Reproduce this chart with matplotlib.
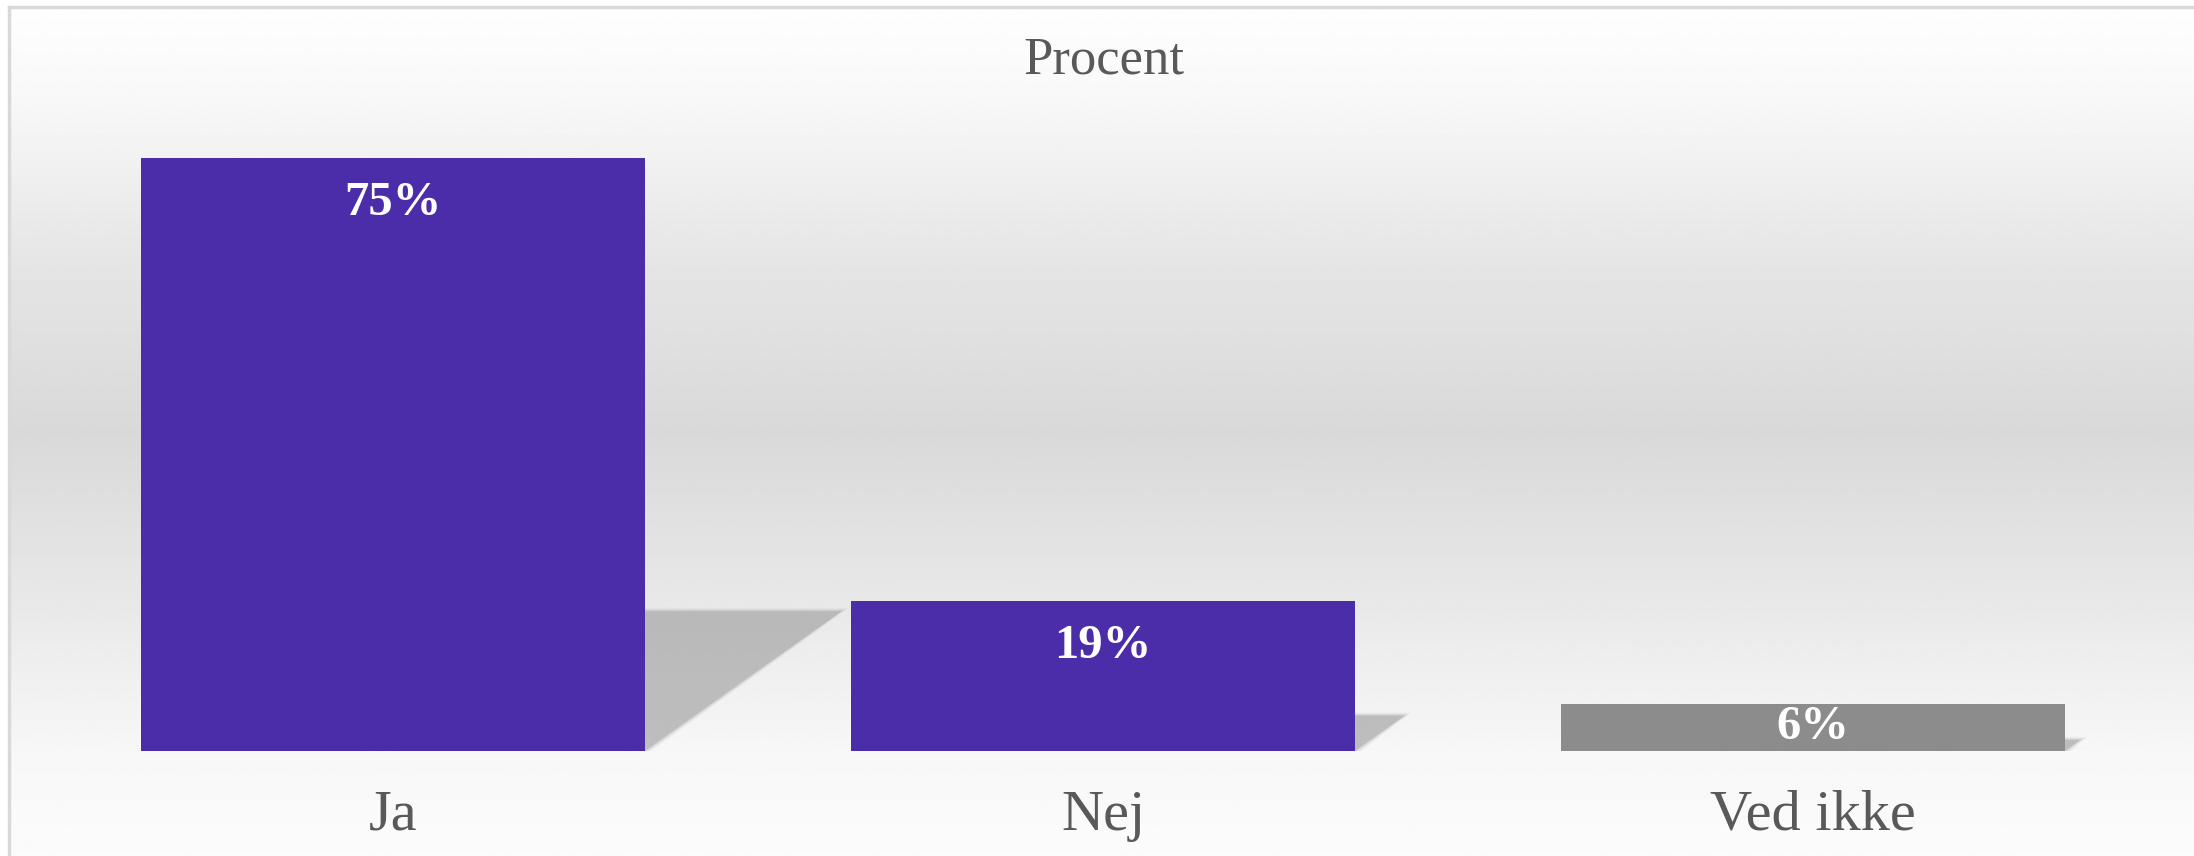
import numpy as np
import matplotlib
matplotlib.use("Agg")
import matplotlib.pyplot as plt
from matplotlib.patches import Polygon

categories = ["Ja", "Nej", "Ved ikke"]
values = [75, 19, 6]
labels = ["75%", "19%", "6%"]
bar_colors = ["#4b2daa", "#4b2daa", "#8c8c8c"]

W, H, DPI = 2194, 856, 100
fig = plt.figure(figsize=(W / DPI, H / DPI), dpi=DPI)
fig.patch.set_facecolor("white")

# background gradient (white -> light grey -> white), inside a thin frame
bg = fig.add_axes([9 / W, 0, 1 - 9 / W, 1 - 7 / H], zorder=0)
stops_pos = [0.0, 0.1, 0.3, 0.5, 0.7, 0.88, 1.0]
stops_val = [0.995, 0.975, 0.9, 0.85, 0.91, 0.97, 0.985]
yy = np.linspace(0, 1, 400)
grad = np.interp(yy, stops_pos, stops_val)
bg.imshow(np.repeat(grad[:, None], 2, axis=1), cmap="gray", vmin=0, vmax=1,
          aspect="auto", extent=[0, 1, 0, 1], origin="upper", interpolation="bilinear")
bg.set_xlim(0, 1)
bg.set_ylim(0, 1)
bg.axis("off")
fig.add_artist(plt.Line2D([9 / W, 9 / W], [0, 1 - 7 / H], transform=fig.transFigure,
                          color="#d9d9d9", lw=2.5))
fig.add_artist(plt.Line2D([9 / W, 1], [1 - 7 / H, 1 - 7 / H], transform=fig.transFigure,
                          color="#d9d9d9", lw=2.5))

ax = fig.add_axes([38 / W, 1 - 751 / H, 2130 / W, (751 - 158) / H], zorder=1)
ax.patch.set_alpha(0)
x = np.arange(len(categories))
width = 0.709
ax.set_xlim(-0.5, len(categories) - 0.5)
ax.set_ylim(0, 75)

# soft shadows cast behind bars
for xi, v in zip(x, values):
    dx = 0.0037 * v
    dy = 0.236 * v
    right = xi + width / 2
    left = xi - width / 2
    for k, a in zip(range(4, -1, -1), [0.06, 0.09, 0.13, 0.2, 0.4]):
        g = 0.0025 * k
        poly = Polygon([(left, 0), (right + g, 0), (right + dx + g, dy + g * 40),
                        (left + dx, dy + g * 40)], closed=True,
                       facecolor="#a0a0a0", edgecolor="none", alpha=a, zorder=1)
        ax.add_patch(poly)

bars = ax.bar(x, values, width=width, color=bar_colors, zorder=3)

px_per_unit = (751 - 158) / 75.0
for xi, v, lab in zip(x, values, labels):
    ty = max(v - 45 / px_per_unit, v / 2)
    ax.text(xi, ty, lab, ha="center", va="center", color="white",
            fontsize=35, fontweight="bold", family="Liberation Serif", zorder=4)

ax.set_xticks(x)
ax.set_xticklabels(categories, fontsize=42, color="#595959", family="Liberation Serif")
ax.tick_params(axis="x", length=0, pad=28)
ax.set_yticks([])
for s in ax.spines.values():
    s.set_visible(False)

fig.text(1104 / W, 1 - 60 / H, "Procent", ha="center", va="center",
         fontsize=38, color="#595959", family="Liberation Serif")

fig.savefig("out.png", dpi=DPI)
